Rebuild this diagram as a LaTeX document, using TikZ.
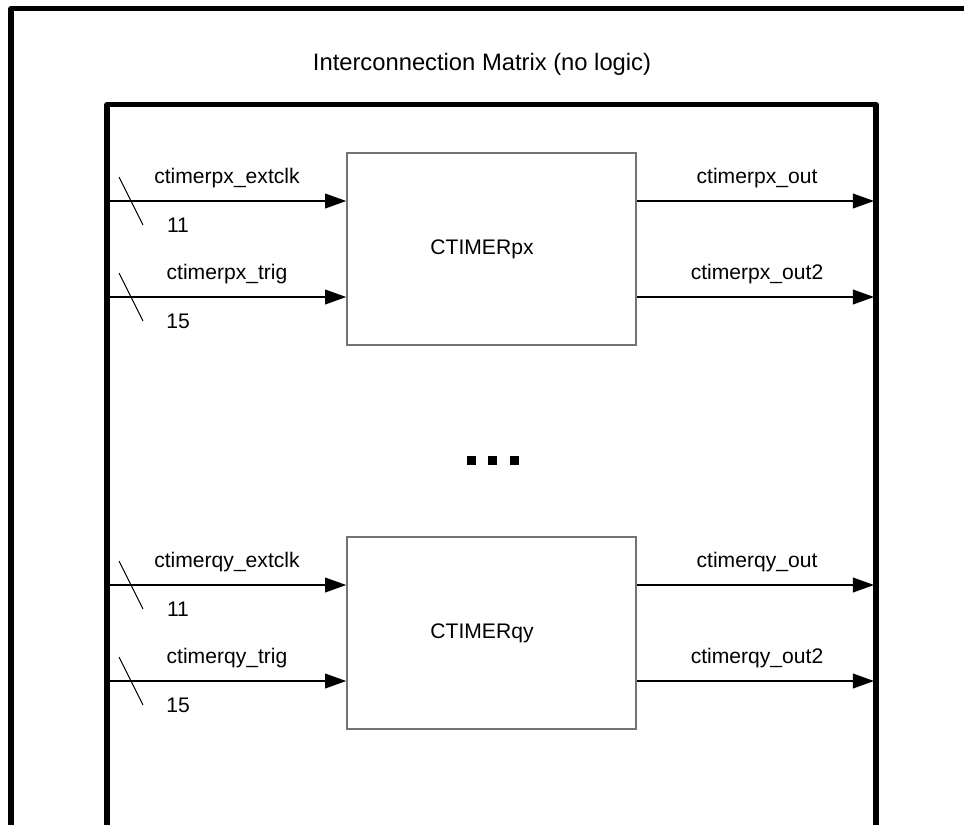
\documentclass[tikz,border=0pt]{standalone}
\usepackage{fontspec}
\setmainfont{Liberation Sans}
\usetikzlibrary{arrows.meta}

\begin{document}
\begin{tikzpicture}[x=0.025cm, y=-0.025cm,
  every node/.style={font=\fontsize{15}{18}\selectfont, inner sep=0pt},
  frame/.style={line width=3.6pt, line join=round},
  blk/.style={draw=black!55, line width=1.1pt, minimum width=7.225cm, minimum height=4.8cm},
  wire/.style={line width=0.9pt, -{Triangle[length=15pt, width=10.5pt]}},
  bus/.style={line width=0.7pt}]

% --- Page and frames ---
\clip (0,0) rectangle (964,824);
\draw[frame] (11,8.5) rectangle (1010,900);
\draw[frame] (107,104.5) rectangle (876,900);
\node[font=\fontsize{16.9}{20}\selectfont] (title) at (482,64) {Interconnection Matrix (no logic)};

% --- Timer blocks ---
\foreach \tag/\cy in {px/249, qy/633} {
\begin{scope}[shift={(0,\cy)}]
  \node[blk] (\tag) at (491.5,0) {};
  \node (\tag name) at (482,0) {CTIMER\tag};

  % Inputs
  \coordinate (\tag ia) at (107,-48);
  \coordinate (\tag ib) at (107,48);
  \draw[wire] (\tag ia) -- (\tag ia -| \tag.west);
  \draw[wire] (\tag ib) -- (\tag ib -| \tag.west);
  \node (\tag la) at (227,-71) {ctimer\tag\_extclk};
  \node (\tag lb) at (227,25) {ctimer\tag\_trig};

  % Bus width marks
  \draw[bus] (119,-72) -- (143,-24);
  \draw[bus] (119,24) -- (143,72);
  \node (\tag na) at (178,-24) {11};
  \node (\tag nb) at (178,72) {15};

  % Outputs
  \coordinate (\tag oa) at (874,-48);
  \coordinate (\tag ob) at (874,48);
  \draw[wire] (\tag oa -| \tag.east) -- (\tag oa);
  \draw[wire] (\tag ob -| \tag.east) -- (\tag ob);
  \node (\tag lc) at (757,-71) {ctimer\tag\_out};
  \node (\tag ld) at (757,25) {ctimer\tag\_out2};
\end{scope}
}

% --- Ellipsis ---
\foreach \dx in {471,492,514}
  \fill (\dx-4.5,455.5) rectangle (\dx+4.5,464.5);

\end{tikzpicture}
\end{document}
